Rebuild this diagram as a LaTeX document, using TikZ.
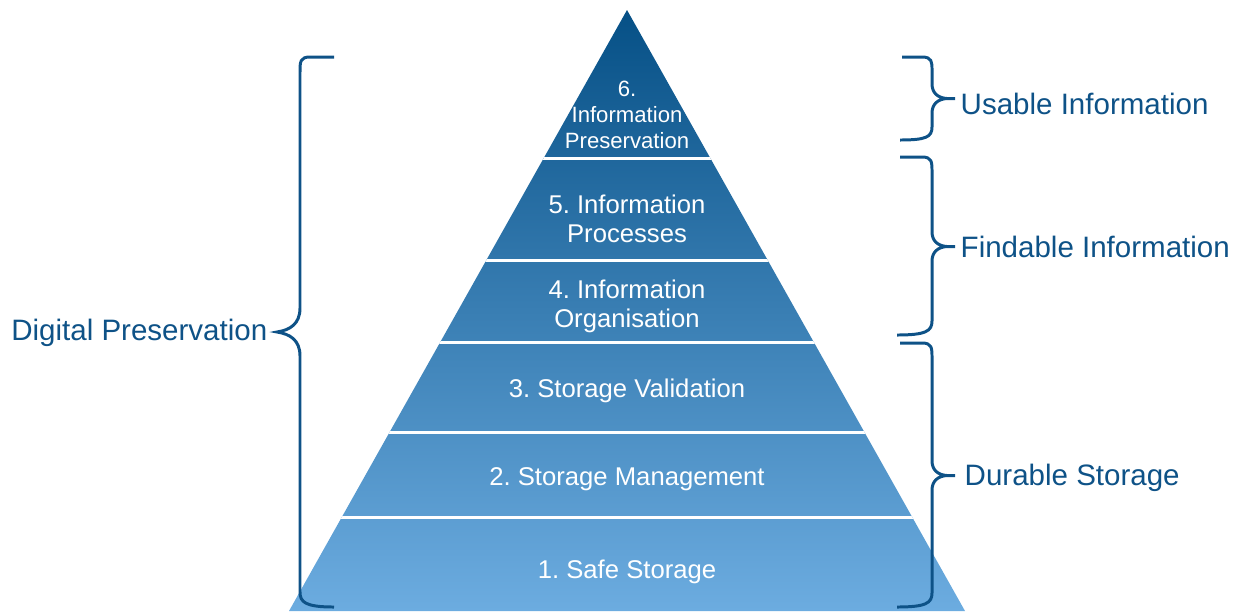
\documentclass[tikz,border=0pt]{standalone}
\usepackage{fontspec}
\setmainfont{Liberation Sans}
\frenchspacing
\definecolor{dpblue}{RGB}{14,82,135}
\definecolor{pyrtop}{RGB}{6,80,134}
\definecolor{pyrbottom}{RGB}{108,172,224}
\tikzset{
  layer text/.style={text=white, align=center, font=\fontsize{7.3}{8.25}\selectfont},
  top text/.style={text=white, align=center, font=\fontsize{6.3}{7.4}\selectfont},
  side label/.style={text=dpblue, anchor=west, inner sep=0pt, font=\fontsize{8.4}{10}\selectfont},
  brace line/.style={draw=dpblue, line width=0.85pt},
  layer line/.style={draw=white, line width=0.85pt}
}
\begin{document}
\begin{tikzpicture}
      \useasboundingbox (0,0) rectangle (12.39,-6.11);
      \begin{scope}
        \shade[top color=pyrtop, bottom color=pyrbottom] (6.27,-0.10)--(9.65,-6.11)--(2.89,-6.11)--cycle;
        \clip (6.27,-0.10)--(9.65,-6.11)--(2.89,-6.11)--cycle;
        \draw[layer line] (2.5,-1.58)--(10,-1.58);
        \draw[layer line] (2.5,-2.60)--(10,-2.60);
        \draw[layer line] (2.5,-3.42)--(10,-3.42);
        \draw[layer line] (2.5,-4.32)--(10,-4.32);
        \draw[layer line] (2.5,-5.17)--(10,-5.17);
      \end{scope}

      \node[top text] (l6) at (6.27,-1.15) {6.\\Information\\Preservation};
      \node[layer text] (l5) at (6.27,-2.19) {5. Information\\Processes};
      \node[layer text] (l4) at (6.27,-3.06) {4. Information\\Organisation};
      \node[layer text] (l3) at (6.27,-3.91) {3. Storage Validation};
      \node[layer text] (l2) at (6.27,-4.79) {2. Storage Management};
      \node[layer text] (l1) at (6.27,-5.72) {1. Safe Storage};

      % left brace
      \draw[brace line] (3.34,-0.57)--(3.10,-0.57) .. controls (3.00,-0.57) and (3.00,-0.62) .. (3.00,-0.72)
        --(3.00,-3.08) .. controls (3.00,-3.24) and (2.90,-3.30) .. (2.77,-3.32)
        .. controls (2.90,-3.34) and (3.00,-3.40) .. (3.00,-3.56)
        --(3.00,-5.92) .. controls (3.00,-6.02) and (3.05,-6.07) .. (3.34,-6.07);
      \coordinate (dp) at (2.68,-3.33);
      \node[side label, anchor=east] (digital) at (dp) {Digital Preservation};

      % right braces
      \draw[brace line] (9.02,-0.57)--(9.22,-0.57) .. controls (9.32,-0.57) and (9.32,-0.62) .. (9.32,-0.70)
        --(9.32,-0.84) .. controls (9.32,-0.93) and (9.38,-0.98) .. (9.47,-0.985)--(9.55,-0.985)
        (9.47,-0.985) .. controls (9.38,-0.99) and (9.32,-1.04) .. (9.32,-1.13)
        --(9.32,-1.27) .. controls (9.32,-1.37) and (9.26,-1.40) .. (9.00,-1.40);
      \coordinate (ui) at (9.60,-1.04);
      \node[side label] (usable) at (ui) {Usable Information};

      \draw[brace line] (9.00,-1.57)--(9.22,-1.57) .. controls (9.32,-1.57) and (9.32,-1.62) .. (9.32,-1.72)
        --(9.32,-2.32) .. controls (9.32,-2.41) and (9.38,-2.46) .. (9.47,-2.465)--(9.55,-2.465)
        (9.47,-2.465) .. controls (9.38,-2.47) and (9.32,-2.52) .. (9.32,-2.61)
        --(9.32,-3.21) .. controls (9.32,-3.31) and (9.26,-3.35) .. (8.97,-3.35);
      \coordinate (fi) at (9.60,-2.47);
      \node[side label] (findable) at (fi) {Findable Information};

      \draw[brace line] (9.00,-3.43)--(9.22,-3.43) .. controls (9.32,-3.43) and (9.32,-3.48) .. (9.32,-3.58)
        --(9.32,-4.61) .. controls (9.32,-4.70) and (9.38,-4.75) .. (9.47,-4.755)--(9.55,-4.755)
        (9.47,-4.755) .. controls (9.38,-4.76) and (9.32,-4.81) .. (9.32,-4.90)
        --(9.32,-5.93) .. controls (9.32,-6.03) and (9.26,-6.07) .. (8.97,-6.07);
      \coordinate (ds) at (9.64,-4.78);
      \node[side label] (durable) at (ds) {Durable Storage};
    \end{tikzpicture}
\end{document}
